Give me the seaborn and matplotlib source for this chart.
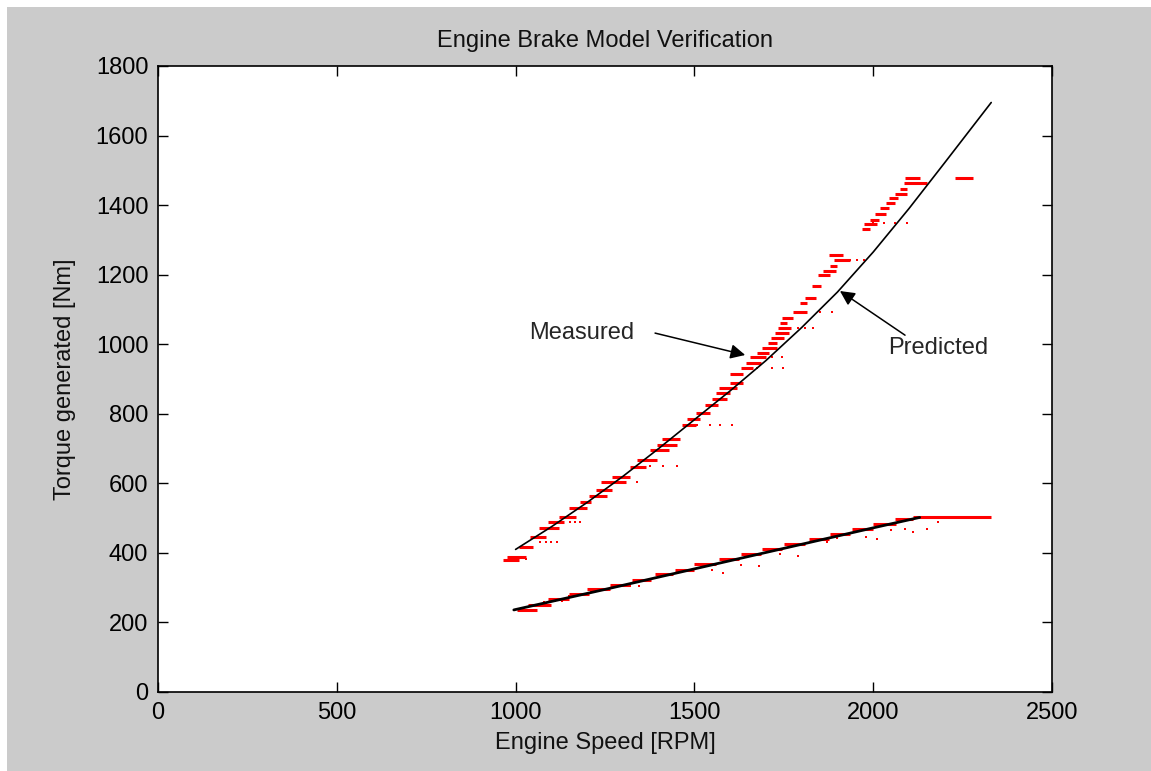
import matplotlib
matplotlib.use("Agg")
import matplotlib.pyplot as plt
import seaborn as sns
import pandas as pd
from matplotlib.patches import Rectangle

# ---------------- data ----------------
# Predicted (model) curves
pred_high_speed = [1000, 1100, 1200, 1300, 1400, 1500, 1600, 1700, 1800, 1900, 2000, 2100, 2200, 2330]
pred_high_torque = [410, 475, 545, 620, 700, 783, 866, 953, 1048, 1150, 1265, 1390, 1522, 1695]
pred_low_speed = [995, 1250, 1500, 1750, 2000, 2130]
pred_low_torque = [236, 295, 354, 413, 472, 502]

# Measured data: horizontal runs of samples (speed start, speed end, torque level)
meas_high_start = [965, 975, 1010, 1040, 1065, 1090, 1120, 1150, 1180, 1205, 1225, 1240, 1270, 1320,
                   1340, 1375, 1395, 1410, 1465, 1480, 1505, 1530, 1550, 1560, 1570, 1600, 1600, 1630,
                   1645, 1655, 1675, 1690, 1705, 1715, 1725, 1735, 1740, 1745, 1775, 1795, 1810, 1830,
                   1845, 1860, 1880, 1890, 1875, 1970, 1975, 1990, 2005, 2020, 2035, 2045, 2060, 2075,
                   2085, 2090, 2230]
meas_high_end = [1010, 1030, 1050, 1085, 1120, 1135, 1170, 1200, 1210, 1255, 1270, 1310, 1320, 1365,
                 1395, 1430, 1450, 1460, 1505, 1515, 1545, 1565, 1590, 1600, 1620, 1635, 1635, 1665,
                 1685, 1700, 1710, 1730, 1730, 1750, 1765, 1770, 1760, 1775, 1815, 1815, 1840, 1855,
                 1880, 1895, 1900, 1935, 1915, 1990, 2010, 2015, 2035, 2045, 2060, 2070, 2095, 2095,
                 2150, 2130, 2280]
meas_high_torque = [380, 388, 418, 445, 472, 490, 503, 530, 545, 565, 580, 604, 618, 647,
                    667, 696, 710, 727, 768, 785, 802, 825, 842, 860, 874, 888, 914, 931,
                    946, 963, 975, 989, 1003, 1018, 1033, 1047, 1061, 1075, 1092, 1118, 1133, 1167,
                    1199, 1210, 1225, 1242, 1256, 1331, 1346, 1357, 1374, 1392, 1406, 1420, 1432, 1446,
                    1463, 1478, 1478]

meas_low_start = [1005, 1035, 1090, 1150, 1200, 1265, 1325, 1390, 1445, 1500, 1570, 1630, 1690, 1750,
                  1820, 1880, 1940, 2000, 2060, 2110]
meas_low_end = [1060, 1100, 1150, 1205, 1265, 1320, 1380, 1440, 1500, 1560, 1625, 1685, 1745, 1810,
                1875, 1935, 2000, 2065, 2110, 2330]
meas_low_torque = [237, 251, 266, 281, 295, 309, 323, 338, 352, 367, 381, 396, 410, 425,
                   439, 454, 468, 483, 497, 504]

# Isolated measured samples
dots_speed = [1030, 1068, 1085, 1100, 1115, 1152, 1166, 1180, 1340, 1376, 1412, 1451, 1507, 1544,
              1572, 1605, 1675, 1717, 1748, 1717, 1745, 1790, 1810, 1832, 1851, 1885, 1935, 1955,
              1975, 2000, 2030, 2060, 2094, 2140,
              1080, 1110, 1130, 1150, 1210, 1320, 1345, 1370, 1550, 1580, 1630, 1680, 1740, 1790,
              1870, 1900, 1980, 2010, 2050, 2090, 2110, 2150, 2180]
dots_torque = [382, 431, 431, 431, 431, 489, 489, 489, 604, 650, 650, 650, 768, 768,
               768, 768, 932, 932, 932, 963, 963, 1047, 1047, 1047, 1092, 1092, 1242, 1242,
               1242, 1348, 1348, 1348, 1348, 1463,
               258, 262, 262, 277, 290, 305, 305, 318, 352, 343, 365, 361, 397, 391,
               430, 442, 445, 440, 467, 470, 460, 470, 490]

title_text = "Engine Brake Model Verification"
x_label = "Engine Speed [RPM]"
y_label = "Torque generated [Nm]"
x_ticks = [0, 500, 1000, 1500, 2000, 2500]
y_ticks = [0, 200, 400, 600, 800, 1000, 1200, 1400, 1600, 1800]

# ---------------- style ----------------
sns.set_theme(style="ticks")
plt.rcParams['font.family'] = ['Liberation Sans', 'DejaVu Sans']
plt.rcParams['axes.edgecolor'] = 'black'

gray = '#cbcbcb'
fig = plt.figure(figsize=(11.51, 7.71), dpi=100, facecolor='white')
fig.patches.append(Rectangle((7 / 1151, 0), 1, (771 - 7) / 771, transform=fig.transFigure,
                             facecolor=gray, edgecolor='none', zorder=-10))
ax = fig.add_axes([158 / 1151, (771 - 692) / 771, (1052 - 158) / 1151, (692 - 66) / 771])
ax.set_facecolor('white')

# measured runs
ax.hlines(meas_high_torque, meas_high_start, meas_high_end, colors='#ff0000', linewidth=2.2, zorder=2)
ax.hlines(meas_low_torque, meas_low_start, meas_low_end, colors='#ff0000', linewidth=2.2, zorder=2)
sns.scatterplot(x=dots_speed, y=dots_torque, ax=ax, color='#ff0000', marker='s', s=4,
                linewidth=0, zorder=2)

# predicted curves
df_hi = pd.DataFrame({'speed': pred_high_speed, 'torque': pred_high_torque})
df_lo = pd.DataFrame({'speed': pred_low_speed, 'torque': pred_low_torque})
sns.lineplot(data=df_hi, x='speed', y='torque', ax=ax, color='black', linewidth=1.2,
             estimator=None, sort=False, zorder=3)
sns.lineplot(data=df_lo, x='speed', y='torque', ax=ax, color='black', linewidth=2.0,
             estimator=None, sort=False, zorder=3)

ax.set_xlim(0, 2500)
ax.set_ylim(0, 1800)
ax.set_xticks(x_ticks)
ax.set_yticks(y_ticks)
ax.tick_params(direction='in', length=7, width=1, top=True, right=True, labelsize=17,
               colors='black', pad=7)
for s in ax.spines.values():
    s.set_visible(True)
    s.set_linewidth(1.2)
    s.set_color('black')

ax.set_title(title_text, fontsize=17, pad=14, color='#111111')
ax.set_xlabel(x_label, fontsize=17, labelpad=6, color='#111111')
ax.set_ylabel(y_label, fontsize=17, labelpad=14, color='#111111')

arrow = dict(arrowstyle='-|>', color='black', lw=1.1, mutation_scale=22, shrinkA=0, shrinkB=0)
ax.annotate('Measured', xy=(1642, 969), xytext=(1184, 1032), fontsize=17, ha='center', va='center')
ax.annotate('', xy=(1642, 969), xytext=(1390, 1032), arrowprops=arrow)
ax.annotate('Predicted', xy=(1907, 1153), xytext=(2181, 989), fontsize=17, ha='center', va='center')
ax.annotate('', xy=(1907, 1153), xytext=(2089, 1026), arrowprops=arrow)

fig.savefig('out.png', dpi=100, facecolor=fig.get_facecolor())
